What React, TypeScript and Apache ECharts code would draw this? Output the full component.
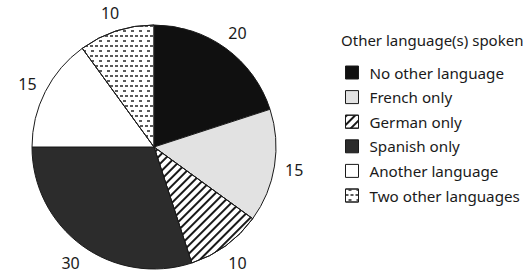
import React, { useEffect, useRef } from "react";
import * as echarts from "echarts";

const categories = [
  "No other language",
  "French only",
  "German only",
  "Spanish only",
  "Another language",
  "Two other languages",
];
const values = [20, 15, 10, 30, 15, 10];
const legendTitle = "Other language(s) spoken";

const FONT = "'Noto Sans', 'Open Sans', sans-serif";
const INK = "#1a1a1a";

const fills: any[] = [
  { color: "#101010" },
  { color: "#e2e2e2" },
  {
    color: "#ffffff",
    decal: {
      symbol: "rect",
      color: "#1a1a1a",
      backgroundColor: "#ffffff",
      dashArrayX: [1, 0],
      dashArrayY: [1.3, 3.2],
      rotation: -Math.PI / 4,
      symbolSize: 1,
    },
  },
  { color: "#2c2c2c" },
  { color: "#ffffff" },
  {
    color: "#ffffff",
    decal: {
      symbol: "rect",
      color: "#5a5a5a",
      backgroundColor: "#ffffff",
      dashArrayX: [[3, 1.5], [0, 2.2, 3, 1.5]],
      dashArrayY: [1.1, 2.1],
      rotation: 0,
      symbolSize: 1,
    },
  },
];

export default function App() {
  const ref = useRef<HTMLDivElement>(null);
  useEffect(() => {
    if (!ref.current) return;
    const chart = echarts.init(ref.current, null, { renderer: "svg" });
    const data = categories.map((name, i) => ({
      name,
      value: values[i],
      itemStyle: { ...fills[i] },
    }));
    const labelData = categories.map((name, i) => ({ name, value: values[i] }));
    chart.setOption({
      animation: false,
      backgroundColor: "#ffffff",
      title: {
        text: legendTitle,
        left: 341,
        top: 32,
        padding: 0,
        textStyle: { fontFamily: FONT, fontSize: 15, fontWeight: "normal", color: INK },
      },
      legend: {
        orient: "vertical",
        left: 345,
        top: 65,
        padding: 0,
        icon: "rect",
        itemWidth: 13,
        itemHeight: 13,
        itemGap: 9.6,
        selectedMode: false,
        data: categories,
        textStyle: { fontFamily: FONT, fontSize: 15.2, color: INK, padding: [0, 0, 0, 6] },
        itemStyle: { borderColor: INK, borderWidth: 1 },
      },
      series: [
        {
          type: "pie",
          center: [154, 147],
          radius: [0, 122],
          startAngle: 90,
          clockwise: true,
          avoidLabelOverlap: false,
          label: { show: false },
          labelLine: { show: false },
          itemStyle: { borderColor: INK, borderWidth: 1 },
          emphasis: { disabled: true },
          data,
        },
        {
          type: "pie",
          center: [154, 148],
          radius: [132, 146],
          startAngle: 90,
          clockwise: true,
          silent: true,
          avoidLabelOverlap: false,
          itemStyle: { color: "rgba(0,0,0,0)", borderWidth: 0 },
          label: {
            show: true,
            position: "inside",
            formatter: "{c}",
            fontFamily: FONT,
            fontSize: 16,
            color: INK,
          },
          labelLine: { show: false },
          emphasis: { disabled: true },
          data: labelData,
        },
      ],
    });
    return () => chart.dispose();
  }, []);
  return <div ref={ref} style={{ width: 528, height: 273, position: "absolute", left: 0, top: 0 }} />;
}
